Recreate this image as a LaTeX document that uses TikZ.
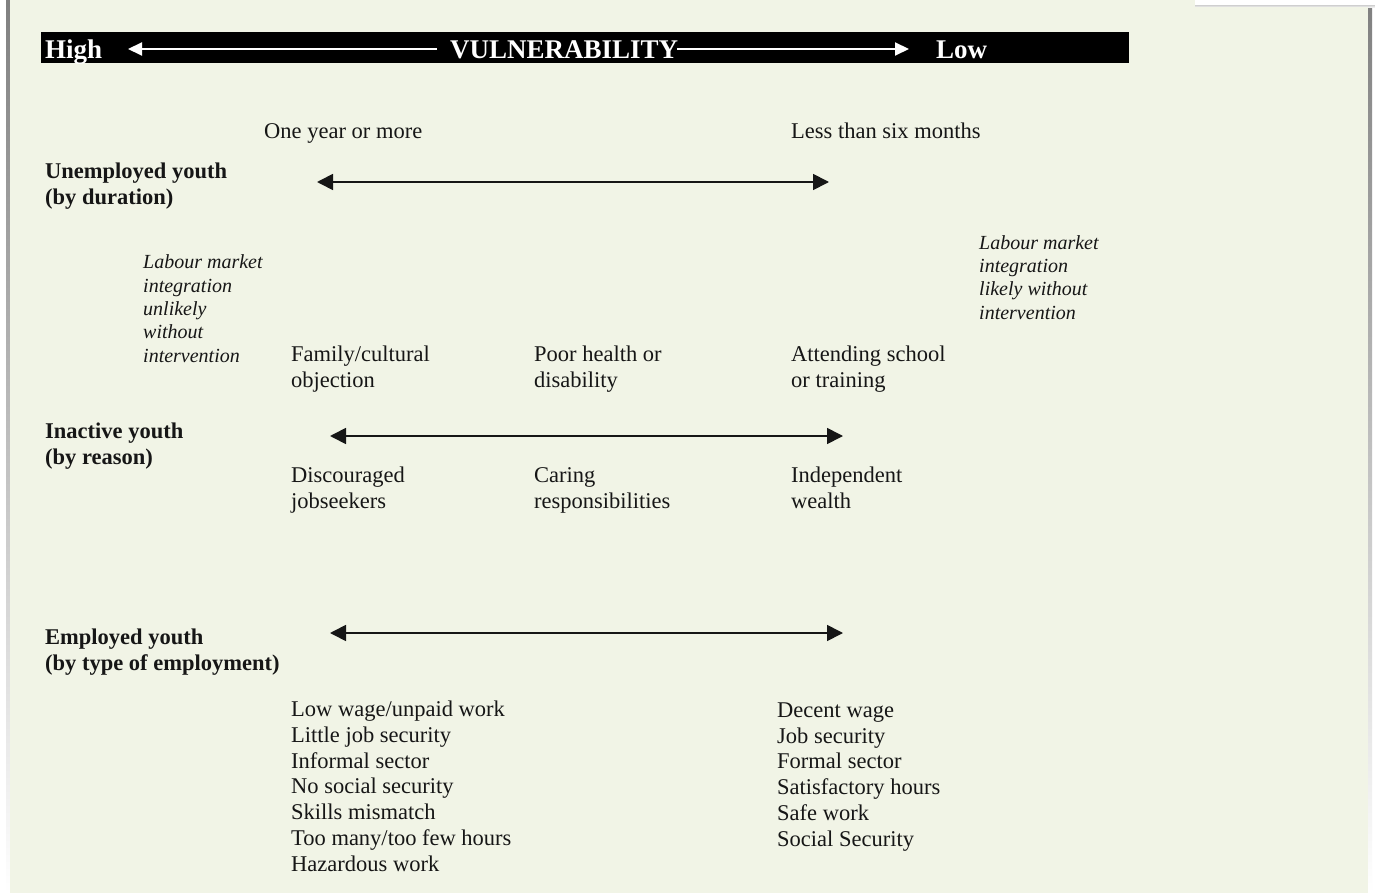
\documentclass[tikz,border=0pt]{standalone}
\usepackage{fontspec}
\setmainfont{Liberation Serif}
\usetikzlibrary{arrows.meta}
\definecolor{panel}{RGB}{241,244,230}
\definecolor{ink}{RGB}{22,22,22}
\definecolor{shade}{RGB}{228,228,228}
\tikzset{
  txt/.style={anchor=base west, inner sep=0pt, align=left, text=ink,
    font=\fontsize{22.5}{25.7}\selectfont},
  lbl/.style={anchor=base west, inner sep=0pt, align=left, text=ink,
    font=\fontsize{22.5}{26}\selectfont\bfseries},
  note/.style={anchor=base west, inner sep=0pt, align=left, text=ink,
    font=\fontsize{20}{23.3}\selectfont\itshape},
  head/.style={anchor=base west, inner sep=0pt, text=white,
    font=\fontsize{27}{30}\selectfont\bfseries},
  spanarrow/.style={line width=1.7pt, draw=ink,
    {Triangle[length=16pt,width=16pt]}-{Triangle[length=16pt,width=16pt]}},
  headarrow/.style={line width=2pt, draw=white,
    -{Triangle[length=14pt,width=13pt]}}
}
\begin{document}
\begin{tikzpicture}[x=1pt,y=-1pt]
\useasboundingbox (0,0) rectangle (1375,893);
% page and panel
\fill[white] (0,0) rectangle (1375,893);
\fill[shade] (6,0) rectangle (1372,893);
\fill[shade] (1193,0) rectangle (1375,8);
\fill[white] (1195,0) rectangle (1375,5);
\fill[panel] (10,0) rectangle (1195,893);
\fill[panel] (1195,7) rectangle (1368,893);
% header bar
\fill[black] (41,32) rectangle (1129,63);
\node[head] (high) at (45,59) {High};
\node[head] (vul) at (450,59) {VULNERABILITY};
\node[head] (low) at (936,59) {Low};
\coordinate (hl1) at (437,49);
\coordinate (hl2) at (128,49);
\coordinate (hr1) at (677,49);
\coordinate (hr2) at (909,49);
\draw[headarrow] (hl1) -- (hl2);
\draw[headarrow] (hr1) -- (hr2);
% unemployed (multi-line nodes: base = last line's baseline)
\node[txt] (oneyear) at (264,139) {One year or more};
\node[txt] (lesssix) at (791,139) {Less than six months};
\node[lbl] (unemp) at (45,205) {Unemployed youth\\(by duration)};
\coordinate (a1l) at (317,182);
\coordinate (a1r) at (829,182);
\draw[spanarrow] (a1l) -- (a1r);
% notes
\node[note] (unlikely) at (143,362) {Labour market\\integration\\unlikely\\without\\intervention};
\node[note] (likely) at (979,319) {Labour market\\integration\\likely without\\intervention};
% inactive
\node[txt] (family) at (291,387) {Family/cultural\\objection};
\node[txt] (health) at (534,387) {Poor health or\\disability};
\node[txt] (school) at (791,387) {Attending school\\or training};
\node[lbl] (inact) at (45,464) {Inactive youth\\(by reason)};
\coordinate (a2l) at (330,436);
\coordinate (a2r) at (843,436);
\draw[spanarrow] (a2l) -- (a2r);
\node[txt] (discour) at (291,508) {Discouraged\\jobseekers};
\node[txt] (caring) at (534,508) {Caring\\responsibilities};
\node[txt] (wealth) at (791,508) {Independent\\wealth};
% employed
\node[lbl] (emp) at (45,670) {Employed youth\\(by type of employment)};
\coordinate (a3l) at (330,633);
\coordinate (a3r) at (843,633);
\draw[spanarrow] (a3l) -- (a3r);
\node[txt] (badjob) at (291,871) {Low wage/unpaid work\\Little job security\\Informal sector\\No social security\\Skills mismatch\\Too many/too few hours\\Hazardous work};
\node[txt] (goodjob) at (777,846) {Decent wage\\Job security\\Formal sector\\Satisfactory hours\\Safe work\\Social Security};
\end{tikzpicture}
\end{document}
